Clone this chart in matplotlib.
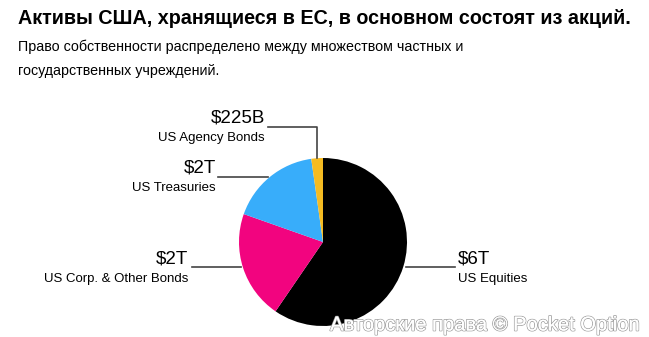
import matplotlib.pyplot as plt
import matplotlib.patheffects as pe

W, H = 649, 337

# data (trillions USD)
categories = ['US Equities', 'US Corp. & Other Bonds', 'US Treasuries', 'US Agency Bonds']
values = [6.0, 2.1, 1.75, 0.225]
value_labels = ['$6T', '$2T', '$2T', '$225B']
colors = ['#000000', '#f2047f', '#38adfa', '#f5bb22']

title = 'Активы США, хранящиеся в ЕС, в основном состоят из акций.'
subtitle = ['Право собственности распределено между множеством частных и',
            'государственных учреждений.']


def Y(y):
    # pixel rows measured from the top
    return H - y


fig = plt.figure(figsize=(W / 100, H / 100), dpi=100)
ax = fig.add_axes([0, 0, 1, 1])

ax.pie(values, colors=colors, startangle=90, counterclock=False,
       center=(323, Y(242)), radius=84, frame=True)
ax.set_xlim(0, W)
ax.set_ylim(0, H)
ax.set_aspect('equal')
ax.axis('off')

sans = ['Liberation Sans', 'DejaVu Sans']

fig.text(18 / W, 1 - 18 / H, title, fontsize=14.2, fontweight='bold',
         family=sans, va='center', ha='left')
for i, line in enumerate(subtitle):
    fig.text(18 / W, 1 - (47 + 24 * i) / H, line, fontsize=10.3,
             family=sans, va='center', ha='left')

line_kw = dict(color='#444444', lw=1.2)

# leader lines
ax.plot([268, 317, 317], [Y(127), Y(127), Y(158)], **line_kw)
ax.plot([218, 268], [Y(177), Y(177)], **line_kw)
ax.plot([192, 241], [Y(267), Y(267)], **line_kw)
ax.plot([406, 455], [Y(267), Y(267)], **line_kw)

# labels: (x, y of value, ha)
label_pos = [(458, 259, 'left'), (188, 259, 'right'),
             (216, 168, 'right'), (265, 118, 'right')]
for (x, y, ha), val, cat in zip(label_pos, value_labels, categories):
    ax.text(x, Y(y), val, fontsize=13.5, family=sans, ha=ha, va='center')
    ax.text(x, Y(y + 20), cat, fontsize=9.5, family=sans, ha=ha, va='center')

wm = ax.text(640, Y(325), 'Авторские права © Pocket Option', fontsize=14.5,
             family=sans, ha='right', va='center', color='white')
wm.set_path_effects([pe.withStroke(linewidth=1.2, foreground='#a0a0a0'),
                     pe.Normal()])

fig.savefig('out.png', dpi=100)
